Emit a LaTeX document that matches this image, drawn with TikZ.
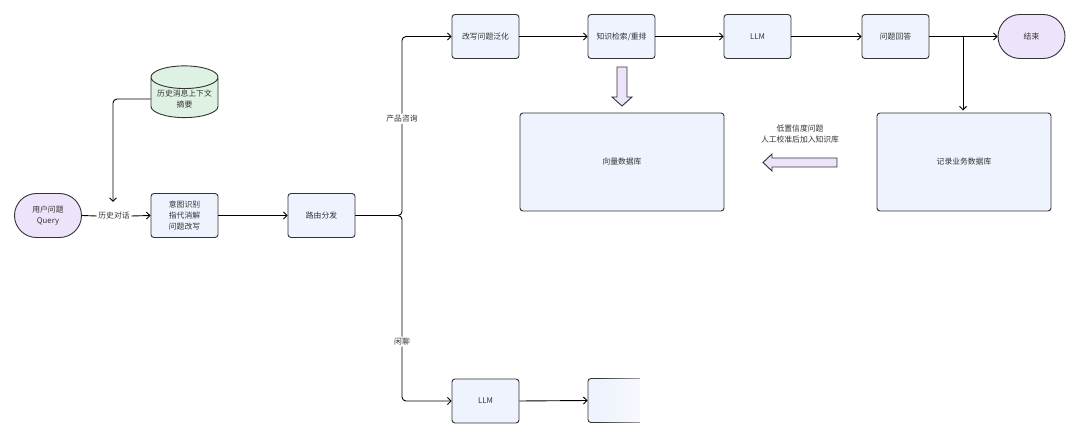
\documentclass[tikz,border=0pt]{standalone}
\usepackage{fontspec}
\setmainfont{Noto Sans CJK SC}
\usetikzlibrary{arrows.meta,shapes.geometric,shapes.arrows,fadings}
\definecolor{boxfill}{HTML}{EEF3FD}
\definecolor{edge}{HTML}{333333}
\definecolor{lav}{HTML}{EDE4FB}
\definecolor{mint}{HTML}{DDF2E3}
\definecolor{txt}{HTML}{333333}
\tikzset{
  box/.style={draw=edge, line width=0.9pt, fill=boxfill, rounded corners=3pt,
    minimum width=67pt, minimum height=44pt, inner sep=1pt, align=center,
    font=\fontsize{7.8}{10.8}\selectfont, text=txt},
  bigbox/.style={box, minimum width=204pt, minimum height=98pt},
  term/.style={box, fill=lav, rounded corners=22pt},
  conn/.style={line width=0.9pt, draw=black, rounded corners=4pt, -{Straight Barb[length=3.5pt,width=7pt]}},
  plain/.style={line width=0.9pt, draw=black, rounded corners=4pt},
  lbl/.style={fill=white, inner sep=1.5pt, font=\fontsize{7.8}{10.8}\selectfont, text=txt, align=center},
  fat/.style={draw=edge, line width=0.9pt, fill=lav}
}
\begin{document}
\begin{tikzpicture}[x=1pt,y=-1pt]
\useasboundingbox[fill=white] (0,0) rectangle (1080,438);
% nodes
\node[term] (q) at (48,215.5) {用户问题\\Query};
\node[box, shape=cylinder, shape border rotate=90, aspect=0.4, fill=mint,
  minimum width=67pt, minimum height=47pt, rounded corners=0pt] (hist) at (184.5,99) {历史消息上下文\\摘要};
\node[lbl] (hl) at (114,216) {历史对话};
\node[box] (intent) at (184.5,215.5) {意图识别\\指代消解\\问题改写};
\node[box] (route) at (321.5,215.5) {路由分发};
\node[box] (rew) at (485.5,36.5) {改写问题泛化};
\node[box] (ret) at (621.5,36.5) {知识检索/重排};
\node[box] (llm) at (757.5,36.5) {LLM};
\node[box] (ans) at (895.5,36.5) {问题回答};
\node[term] (end) at (1031.5,36.5) {结束};
\node[bigbox] (vec) at (622,162) {向量数据库};
\node[bigbox, minimum width=174pt] (rec) at (964,162) {记录业务数据库};
\node[box] (llm2) at (485.5,401) {LLM};
\node[box] (hid) at (621.5,400.5) {};
\fill[white, path fading=west] (596,368) rectangle (680,432);
\fill[white] (640,368) rectangle (680,432);
\node[lbl, fill=none] (note) at (800,134) {低置信度问题\\人工校准后加入知识库};
% connectors
\draw[conn] (hist.west) -- (113,99) -- (113,202);
\draw[plain] (q.east) -- (hl.west);
\draw[conn] (hl.east) -- (intent.west);
\draw[conn] (intent.east) -- (route.west);
\coordinate (split) at (402,215.5);
\draw[conn] (route.east) -- (split) |- (rew.west) node[pos=0.27, lbl] {产品咨询};
\draw[conn] (route.east) -- (split) |- (llm2.west) node[pos=0.34, lbl] {闲聊};
\draw[conn] (rew.east) -- (ret.west);
\draw[conn] (ret.east) -- (llm.west);
\draw[conn] (llm.east) -- (ans.west);
\draw[conn] (ans.east) -- (end.west);
\coordinate (br) at (963,36.5);
\draw[conn] (br) -- (963,110.5);
\draw[conn] (llm2.east) -- (hid.west);
% fat arrows
\draw[fat] (617,67) -- (627,67) -- (627,97) -- (632,97) -- (622,106) -- (612,97) -- (617,97) -- cycle;
\draw[fat] (837,158) -- (837,167) -- (772,167) -- (772,171) -- (763,162.5) -- (772,154) -- (772,158) -- cycle;
\end{tikzpicture}
\end{document}
